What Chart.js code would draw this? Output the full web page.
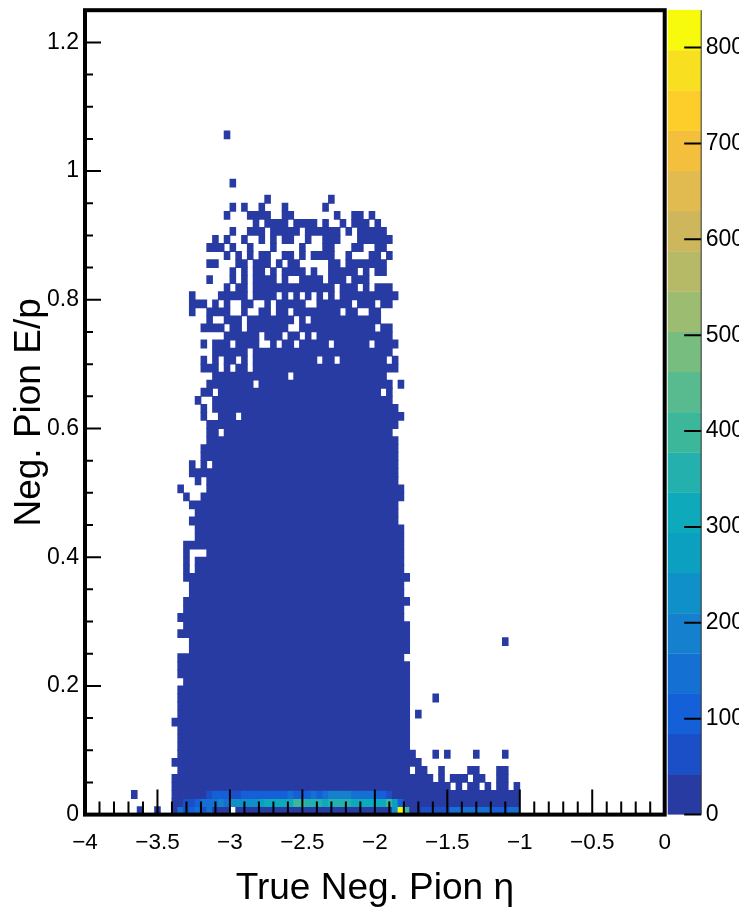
<!DOCTYPE html>
<html>
<head>
<meta charset="utf-8">
<title>Neg. Pion E/p</title>
<script src="https://cdn.jsdelivr.net/npm/chart.js@4"></script>
<style>
  html, body { margin: 0; padding: 0; background: #fff; }
  canvas { display: block; }
</style>
</head>
<body>
<canvas id="chart" width="739" height="907"></canvas>
<script>
const etaMin = -4;
const etaMax = 0;
const ratioMax = 1.25;
const binCount = 100;
const countMax = 839;

const xTicks = [-4, -3.5, -3, -2.5, -2, -1.5, -1, -0.5, 0];
const yTicks = [0, 0.2, 0.4, 0.6, 0.8, 1, 1.2];
const zTicks = [0, 100, 200, 300, 400, 500, 600, 700, 800];

// colz palette, one colour per contour
const bandColors = [
  "#283ba3", "#1a4fc8", "#1460d8", "#1570d4", "#1480ce",
  "#0f90c8", "#0ca0c0", "#0ea9bb", "#24b0ac", "#3cb79a",
  "#58bb90", "#78bd80", "#9cbc72", "#b6b966", "#ceb65c",
  "#e2bb50", "#f4bf3c", "#fdcd2a", "#f8e020", "#f8fa0e",
];

// filled eta bins of each E/p row: [first, last]
const sparseCount = 8;
const rowRuns = {
  3: [[15, 62], [64, 64], [66, 67], [69, 69], [71, 72], [74, 74]],
  4: [[15, 59], [61, 61], [63, 65], [67, 68], [71, 72]],
  5: [[16, 55], [57, 58], [61, 61], [66, 67], [71, 72]],
  6: [[15, 57]],
  7: [[16, 56], [60, 60], [62, 62], [67, 67], [72, 72]],
  8: [[16, 55]],
  9: [[16, 55]],
  10: [[16, 55]],
  11: [[15, 55]],
  12: [[16, 55], [57, 57]],
  13: [[16, 55]],
  14: [[16, 55], [60, 60]],
  15: [[16, 55]],
  16: [[17, 55]],
  17: [[16, 55]],
  18: [[16, 55]],
  19: [[16, 54]],
  20: [[18, 55]],
  21: [[18, 55], [72, 72]],
  22: [[16, 55]],
  23: [[17, 55]],
  24: [[16, 54]],
  25: [[17, 54]],
  26: [[17, 55]],
  27: [[18, 54]],
  28: [[18, 54]],
  29: [[17, 55]],
  30: [[17, 17], [19, 54]],
  31: [[17, 17], [19, 54]],
  32: [[17, 17], [21, 54]],
  33: [[17, 54]],
  34: [[19, 54]],
  35: [[19, 54]],
  36: [[18, 53]],
  37: [[19, 53]],
  38: [[18, 53]],
  39: [[17, 17], [20, 54]],
  40: [[16, 16], [21, 54]],
  41: [[19, 19], [21, 53]],
  42: [[18, 53]],
  43: [[18, 18], [20, 20], [22, 53]],
  44: [[20, 53]],
  45: [[20, 53]],
  46: [[21, 53]],
  47: [[21, 22], [24, 52]],
  48: [[21, 53]],
  49: [[20, 20], [23, 25], [27, 54]],
  50: [[20, 20], [22, 53]],
  51: [[19, 19], [22, 52]],
  52: [[20, 21], [23, 50], [52, 52]],
  53: [[21, 28], [30, 52], [54, 54]],
  54: [[22, 34], [36, 51]],
  55: [[20, 22], [24, 24], [26, 27], [29, 53]],
  56: [[20, 20], [22, 22], [24, 25], [27, 27], [29, 39], [41, 42], [44, 51], [53, 53]],
  57: [[22, 27], [29, 52]],
  58: [[20, 20], [22, 24], [26, 29], [32, 32], [34, 35], [37, 41], [43, 48], [50, 53]],
  59: [[24, 29], [31, 33], [35, 36], [38, 38], [40, 52]],
  60: [[20, 23], [25, 26], [28, 34], [37, 49], [51, 52]],
  61: [[21, 21], [24, 26], [28, 35], [37, 37], [39, 50]],
  62: [[18, 18], [21, 24], [27, 27], [30, 31], [33, 34], [36, 43], [45, 46], [49, 50]],
  63: [[18, 20], [22, 22], [24, 24], [27, 28], [31, 31], [33, 37], [40, 45], [47, 49], [51, 52]],
  64: [[18, 18], [23, 27], [29, 32], [34, 34], [36, 36], [38, 38], [40, 40], [42, 42], [44, 53]],
  65: [[24, 24], [26, 27], [29, 42], [44, 46], [48, 48], [50, 52]],
  66: [[21, 21], [25, 25], [27, 27], [29, 32], [34, 34], [37, 40], [42, 44], [46, 48]],
  67: [[25, 25], [27, 27], [29, 30], [32, 32], [34, 37], [39, 39], [42, 46], [48, 48], [50, 51]],
  68: [[21, 22], [26, 27], [29, 31], [33, 33], [35, 36], [42, 43], [45, 51]],
  69: [[24, 24], [26, 26], [28, 28], [30, 31], [34, 35], [37, 37], [39, 42], [45, 45], [49, 50], [52, 52]],
  70: [[21, 23], [25, 25], [28, 28], [32, 32], [37, 37], [41, 42], [46, 47], [50, 51]],
  71: [[22, 22], [24, 24], [27, 27], [30, 30], [32, 32], [34, 35], [38, 38], [41, 43], [47, 52]],
  72: [[25, 25], [28, 30], [32, 36], [38, 43], [45, 45], [47, 51]],
  73: [[29, 29], [31, 34], [36, 39], [41, 41], [44, 44], [46, 48], [50, 50]],
  74: [[24, 24], [28, 31], [34, 35], [43, 43], [46, 47], [49, 49]],
  75: [[25, 25], [27, 27], [30, 30], [34, 34], [41, 41]],
  76: [[31, 31], [42, 42]],
  78: [[25, 25]],
  84: [[24, 24]],
};

// the three lowest rows carry real counts, eta bins 15 to 74
const lowRowFirstBin = 15;
const row0Counts = [
  10, 130, 60, 110, 130, 65, 130, 25, 25, 25, null, 20, 20, 20, 20,
  20, 20, 20, 20, 20, 20, 20, 20, 20, 20, 20, 20, 20, 20, 20,
  20, 20, 20, 20, 20, 20, 20, 20, 230, 830, 390, 35, 35, 60, 70,
  70, 70, 70, 150, 150, 150, 140, 140, 140, 140, 100, 100, 100, 130, 145,
];
const row1Counts = [
  15, 20, 55, 70, 100, 135, 140, 150, 170, 150, 210, 230, 250, 250, 250,
  290, 300, 330, 330, 330, 320, 390, 395, 350, 350, 350, 300, 340, 340, 345,
  345, 320, 325, 325, 325, 300, 300, 390, 270, 100, 20, 20, 20, 20, 20,
  20, 20, 20, 20, 20, 20, 20, 20, 20, 20, 20, 20, 20, 20, 20,
];
const row2Counts = [
  15, 15, 15, 15, 15, 15, 70, 85, 85, 120, 70, 65, 100, 110, 110,
  95, 95, 100, 110, 120, 130, 100, 125, 120, 130, 105, 150, 175, 175, 175,
  175, 140, 140, 140, 140, 100, 100, 70, 20, 20, 20, 20, 20, 20, 20,
  20, 20, 20, 20, 20, 20, 20, 20, 20, 20, 20, 20, 20, 20, 20,
];
// stray bins left of the main block: [bin, row]
const strayBins = [[8, 2], [9, 0], [12, 0]];

const etaStep = (etaMax - etaMin) / binCount;
const ratioStep = ratioMax / binCount;
const bandWidth = countMax / bandColors.length;

function makeCell(first, last, row, count) {
  return {
    x: [etaMin + first * etaStep, etaMin + (last + 1) * etaStep],
    y: (row + 0.5) * ratioStep,
    count: count,
  };
}

const cells = [];
[row0Counts, row1Counts, row2Counts].forEach((counts, row) => {
  counts.forEach((count, i) => {
    if (count !== null) {
      cells.push(makeCell(lowRowFirstBin + i, lowRowFirstBin + i, row, count));
    }
  });
});
strayBins.forEach((b) => cells.push(makeCell(b[0], b[0], b[1], sparseCount)));
Object.keys(rowRuns).forEach((row) => {
  rowRuns[row].forEach((run) => {
    cells.push(makeCell(run[0], run[1], Number(row), sparseCount));
  });
});

function setTicks(values) {
  return (scale) => {
    scale.ticks = values.map((v) => ({ value: v }));
  };
}

// fixed axis sizes, the frame has to stay where it is in the picture
function fixSize(width, height) {
  return (s) => {
    if (width) s.width = width;
    if (height) s.height = height;
    s.paddingTop = s.paddingBottom = s.paddingLeft = s.paddingRight = 0;
  };
}

function numberLabel(value) {
  return String(value).replace("-", "\u2212");
}

// root style ticks (inside the frame), colour bar and frame
const framePlugin = {
  id: "frame",
  afterDatasetsDraw(chart) {
    const { ctx, chartArea: area, scales } = chart;
    const barLeft = area.right + 3;
    const barRight = area.right + 36.5;

    ctx.save();
    bandColors.forEach((color, i) => {
      const y0 = scales.zAxis.getPixelForValue(i * bandWidth);
      const y1 = scales.zAxis.getPixelForValue((i + 1) * bandWidth);
      ctx.fillStyle = color;
      ctx.fillRect(barLeft, y1 - 0.3, barRight - barLeft, y0 - y1 + 0.3);
    });

    ctx.strokeStyle = "#000";
    ctx.lineWidth = 2;
    ctx.beginPath();
    for (let k = 0; k <= 40; k++) {
      const x = scales.x.getPixelForValue(etaMin + k * 0.1);
      ctx.moveTo(x, area.bottom);
      ctx.lineTo(x, area.bottom - (k % 5 === 0 ? 25 : 13));
    }
    for (let k = 0; k <= 25; k++) {
      const y = scales.y.getPixelForValue(k * 0.05);
      ctx.moveTo(area.left, y);
      ctx.lineTo(area.left + (k % 4 === 0 ? 16 : 8), y);
    }
    zTicks.forEach((v) => {
      const y = scales.zAxis.getPixelForValue(v);
      ctx.moveTo(barRight, y);
      ctx.lineTo(barRight - 17, y);
    });
    ctx.stroke();

    ctx.lineWidth = 4;
    ctx.strokeRect(area.left, area.top, area.right - area.left, area.bottom - area.top);

    ctx.strokeStyle = "#333";
    ctx.lineWidth = 1;
    ctx.beginPath();
    ctx.moveTo(barRight, area.top);
    ctx.lineTo(barRight, area.bottom);
    ctx.stroke();
    ctx.restore();
  },
};

new Chart(document.querySelector("#chart"), {
  type: "bar",
  data: {
    datasets: [
      {
        data: cells,
        backgroundColor: cells.map(
          (c) => bandColors[Math.min(Math.floor(c.count / bandWidth), bandColors.length - 1)]
        ),
        borderWidth: 0,
        inflateAmount: 0.4,
        categoryPercentage: 1,
        barPercentage: 1,
      },
    ],
  },
  plugins: [framePlugin],
  options: {
    indexAxis: "y",
    responsive: false,
    animation: false,
    layout: { padding: { top: 10.2 } },
    plugins: { legend: { display: false }, tooltip: { enabled: false } },
    scales: {
      x: {
        type: "linear",
        min: etaMin,
        max: etaMax,
        beginAtZero: false,
        afterBuildTicks: setTicks(xTicks),
        afterFit: fixSize(0, 92.4),
        grid: { display: false, drawTicks: false },
        border: { display: false },
        ticks: {
          color: "#000",
          maxRotation: 0,
          autoSkip: false,
          padding: 15,
          font: { family: "Liberation Sans", size: 22.5 },
          callback: numberLabel,
        },
        title: {
          display: true,
          text: "True Neg. Pion \u03b7",
          color: "#000",
          padding: { top: 0, bottom: -4 },
          font: { family: "Liberation Sans", size: 37 },
        },
      },
      y: {
        type: "linear",
        offset: false,
        min: 0,
        max: ratioMax,
        afterBuildTicks: setTicks(yTicks),
        afterFit: fixSize(85, 0),
        grid: { display: false, drawTicks: false },
        border: { display: false },
        ticks: {
          color: "#000",
          autoSkip: false,
          padding: 6,
          font: { family: "Liberation Sans", size: 23 },
          callback: numberLabel,
        },
        title: {
          display: true,
          text: "Neg. Pion E/p",
          color: "#000",
          padding: { top: 8, bottom: 0 },
          font: { family: "Liberation Sans", size: 37 },
        },
      },
      zAxis: {
        axis: "y",
        type: "linear",
        position: "right",
        offset: false,
        min: 0,
        max: countMax,
        afterBuildTicks: setTicks(zTicks),
        afterFit: fixSize(74.3, 0),
        grid: { display: false, drawTicks: false },
        border: { display: false },
        ticks: {
          color: "#000",
          autoSkip: false,
          padding: 41,
          font: { family: "Liberation Sans", size: 23 },
        },
      },
    },
  },
});
</script>
</body>
</html>
